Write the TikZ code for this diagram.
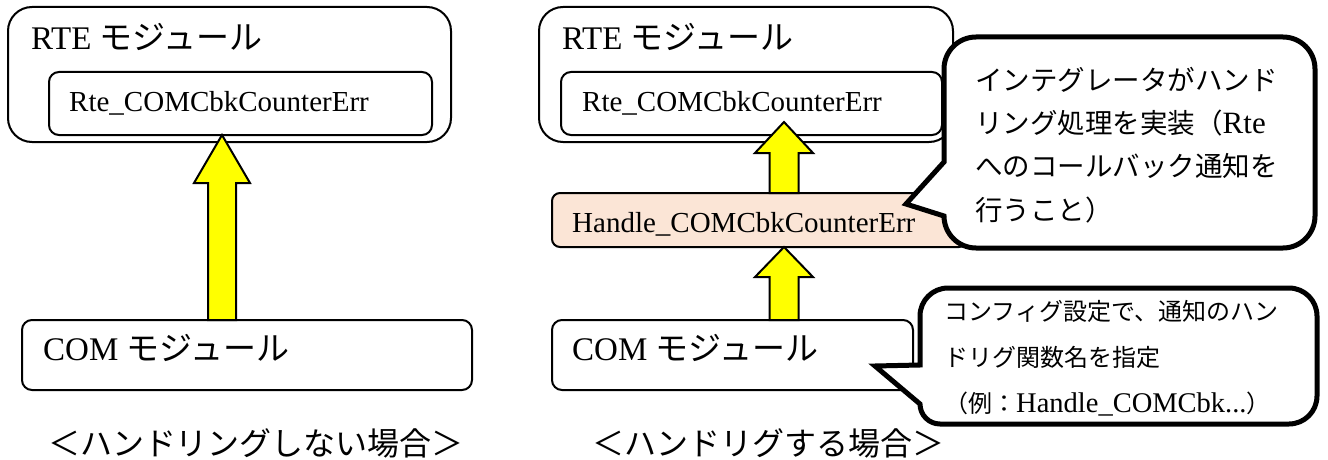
\documentclass[tikz,border=0pt]{standalone}
\usepackage{fontspec}
\setmainfont{Liberation Serif}
\newfontfamily\jp{Noto Sans CJK JP}
\usetikzlibrary{calc}
\definecolor{peach}{HTML}{FBE5D6}
\definecolor{arrowyellow}{HTML}{FFFF00}
\newcommand\J[1]{{\jp #1}}
\newcommand\Ja[1]{{\jp\fontsize{27.5}{43.3}\selectfont #1}}
\newcommand\Jb[1]{{\jp\fontsize{24}{46}\selectfont #1}}
\newcommand\blockarrow[5]{%
  \draw[yarrow] let \p1=(#1), \p2=(#2) in
    (\x2-#3,\y1) -- (\x2-#3,\y2-#5) -- (\x2-#4,\y2-#5) -- (\x2,\y2)
    -- (\x2+#4,\y2-#5) -- (\x2+#3,\y2-#5) -- (\x2+#3,\y1) -- cycle;}
\begin{document}
\begin{tikzpicture}[x=1pt,y=-1pt,
  box/.style={draw, line width=2pt, fill=white, rounded corners=#1,
    inner sep=0pt, outer sep=0pt, anchor=north west},
  yarrow/.style={draw, line width=2pt, fill=arrowyellow, line join=miter},
  callout/.style={draw, line width=5pt, fill=white, line join=miter},
  lbl/.style={inner sep=0pt, anchor=base west}]
\useasboundingbox (0,0) rectangle (1328,460);

% left panel
\node[box=24pt, minimum width=443pt, minimum height=135pt] (rte1) at (8,7) {};
\node[box=10pt, minimum width=383pt, minimum height=63pt] (rin1) at (49,72) {};
\node[box=10pt, minimum width=450pt, minimum height=70pt] (com1) at (22,320) {};

% right panel
\node[box=24pt, minimum width=414pt, minimum height=135pt] (rte2) at (539,7) {};
\node[box=10pt, minimum width=381pt, minimum height=63pt] (rin2) at (561,72) {};
\node[box=8pt, minimum width=415pt, minimum height=54pt, fill=peach] (hdl) at (552,193) {};
\node[box=10pt, minimum width=361pt, minimum height=70pt] (com2) at (552,320) {};

% arrows
\coordinate (ax1) at (222,0);
\coordinate (ax2) at (784,0);
\coordinate (tip2) at ($(rin2.south -| ax2)+(0,-13)$);
\blockarrow{com1.north -| ax1}{rin1.south -| ax1}{14pt}{28pt}{48pt}
\blockarrow{hdl.north -| ax2}{tip2}{14.5pt}{29pt}{31pt}
\blockarrow{com2.north -| ax2}{hdl.south -| ax2}{14.5pt}{29pt}{30pt}

% callouts
\draw[callout] (944,216) arc[start angle=180,end angle=90,radius=32]
  -- (1283,248) arc[start angle=90,end angle=0,radius=32]
  -- (1315,69) arc[start angle=0,end angle=-90,radius=32]
  -- (976,37) arc[start angle=-90,end angle=-180,radius=32]
  -- (944,162) -- (906,204) -- cycle;
\draw[callout] (920,404) arc[start angle=180,end angle=90,radius=20]
  -- (1289,424) arc[start angle=90,end angle=0,radius=28]
  -- (1317,316) arc[start angle=0,end angle=-90,radius=28]
  -- (948,288) arc[start angle=-90,end angle=-180,radius=28]
  -- (920,365) -- (875,366) -- cycle;

% labels
\node[lbl, font=\fontsize{33}{40}\selectfont] (trte1) at (31,50) {RTE \J{モジュール}};
\node[lbl, font=\fontsize{29}{36}\selectfont] (trin1) at (69,111) {Rte\_COMCbkCounterErr};
\node[lbl, font=\fontsize{33}{40}\selectfont] (tcom1) at (43,360) {COM \J{モジュール}};
\node[lbl, font=\fontsize{33}{40}\selectfont] (trte2) at (562,50) {RTE \J{モジュール}};
\node[lbl, font=\fontsize{29}{36}\selectfont] (trin2) at (582,111) {Rte\_COMCbkCounterErr};
\node[lbl, font=\fontsize{29}{36}\selectfont] (thdl) at (572,232) {Handle\_COMCbkCounterErr};
\node[lbl, font=\fontsize{33}{40}\selectfont] (tcom2) at (572,360) {COM \J{モジュール}};

\node[inner sep=0pt, anchor=west, align=left, font=\fontsize{31}{43.3}\selectfont] (c1t) at (975,145)
  {\Ja{インテグレータがハンド}\\\Ja{リング処理を実装（}Rte\\\Ja{へのコールバック通知を}\\\Ja{行うこと）}};
\node[inner sep=0pt, anchor=west, align=left, font=\fontsize{28.5}{46}\selectfont] (c2t) at (944,358)
  {\Jb{コンフィグ設定で、通知のハン}\\\Jb{ドリグ関数名を指定}\\\Jb{（例：}Handle\_COMCbk...\Jb{）}};

\node[inner sep=0pt, font=\jp\fontsize{32}{36}\selectfont] (cap1) at (256,443) {＜ハンドリングしない場合＞};
\node[inner sep=0pt, font=\jp\fontsize{32}{36}\selectfont] (cap2) at (768,443) {＜ハンドリグする場合＞};
\end{tikzpicture}
\end{document}
